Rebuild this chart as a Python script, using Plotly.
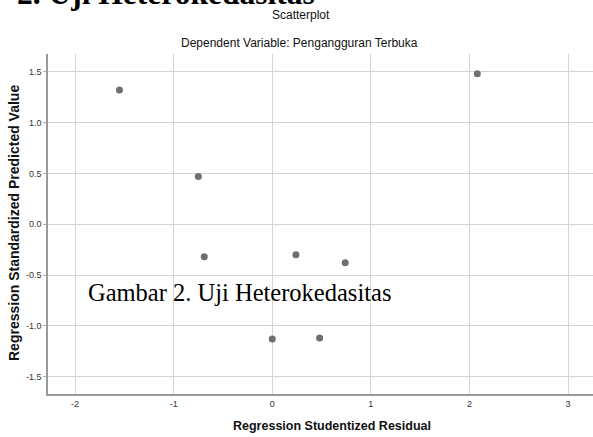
import plotly.graph_objects as go

residual = [-1.55, -0.75, 2.08, -0.69, 0.24, 0.74, 0.00, 0.48]
predicted = [1.32, 0.47, 1.48, -0.32, -0.30, -0.38, -1.13, -1.12]

x_ticks = [-2, -1, 0, 1, 2, 3]
x_tick_labels = ["-2", "-1", "0", "1", "2", "3"]
y_ticks = [-1.5, -1.0, -0.5, 0.0, 0.5, 1.0, 1.5]
y_tick_labels = ["-1.5", "-1.0", "-0.5", "0.0", "0.5", "1.0", "1.5"]

W, H = 593, 437
L, R, T, B = 48, 0, 54, 43
PW, PH = W - L - R, H - T - B


def px(xp):
    return (xp - L) / PW


def py(yp):
    return (H - B - yp) / PH


fig = go.Figure()
fig.add_trace(go.Scatter(
    x=residual, y=predicted, mode="markers",
    marker=dict(size=7, color="#6f6f6f", line=dict(width=0)),
    hoverinfo="x+y", showlegend=False, cliponaxis=False,
))

sans = "Liberation Sans, Arial, sans-serif"
serif = "Liberation Serif, Times New Roman, serif"

annotations = [
    dict(text="<b>2. Uji Heterokedasitas</b>", x=px(15), y=py(-6), xanchor="left", yanchor="middle",
         font=dict(family=serif, size=31.5, color="#000000")),
    dict(text="Scatterplot", x=px(301), y=py(15), xanchor="center", yanchor="middle",
         font=dict(family=sans, size=12, color="#111111")),
    dict(text="Dependent Variable: Pengangguran Terbuka", x=px(299), y=py(43), xanchor="center", yanchor="middle",
         font=dict(family=sans, size=12, color="#111111")),
    dict(text="<b>Regression Studentized Residual</b>", x=px(332), y=py(426), xanchor="center", yanchor="middle",
         font=dict(family=sans, size=12.5, color="#111111")),
    dict(text="<b>Regression Standardized Predicted Value</b>", x=px(14), y=py(223), xanchor="center",
         yanchor="middle", textangle=-90, font=dict(family=sans, size=14, color="#111111")),
    dict(text="Gambar 2. Uji Heterokedasitas", x=px(86), y=py(292), xanchor="left", yanchor="middle",
         font=dict(family=serif, size=24.5, color="#000000")),
]
for a in annotations:
    a.update(xref="paper", yref="paper", showarrow=False)

fig.update_layout(
    width=W, height=H,
    margin=dict(l=L, r=R, t=T, b=B, pad=0, autoexpand=False),
    paper_bgcolor="white", plot_bgcolor="white",
    annotations=annotations,
    xaxis=dict(
        range=[-2.275, 3.2535], tickvals=x_ticks, ticktext=x_tick_labels,
        showgrid=True, gridcolor="#d4d4d4", gridwidth=1,
        showline=True, linecolor="#9a9a9a", linewidth=1.5,
        zeroline=False, ticks="", ticklen=0, automargin=False,
        tickfont=dict(family=sans, size=9, color="#333333"),
    ),
    yaxis=dict(
        range=[-1.67, 1.674], tickvals=y_ticks, ticktext=y_tick_labels,
        showgrid=True, gridcolor="#d4d4d4", gridwidth=1,
        showline=True, linecolor="#9a9a9a", linewidth=1.5,
        zeroline=False, ticks="outside", ticklen=3, tickcolor="#b0b0b0",
        automargin=False,
        tickfont=dict(family=sans, size=9, color="#333333"),
    ),
)

fig.write_html(
    "out.html",
    config={"displayModeBar": False},
    post_script="document.body.style.margin='0';document.body.style.overflow='hidden';",
)
